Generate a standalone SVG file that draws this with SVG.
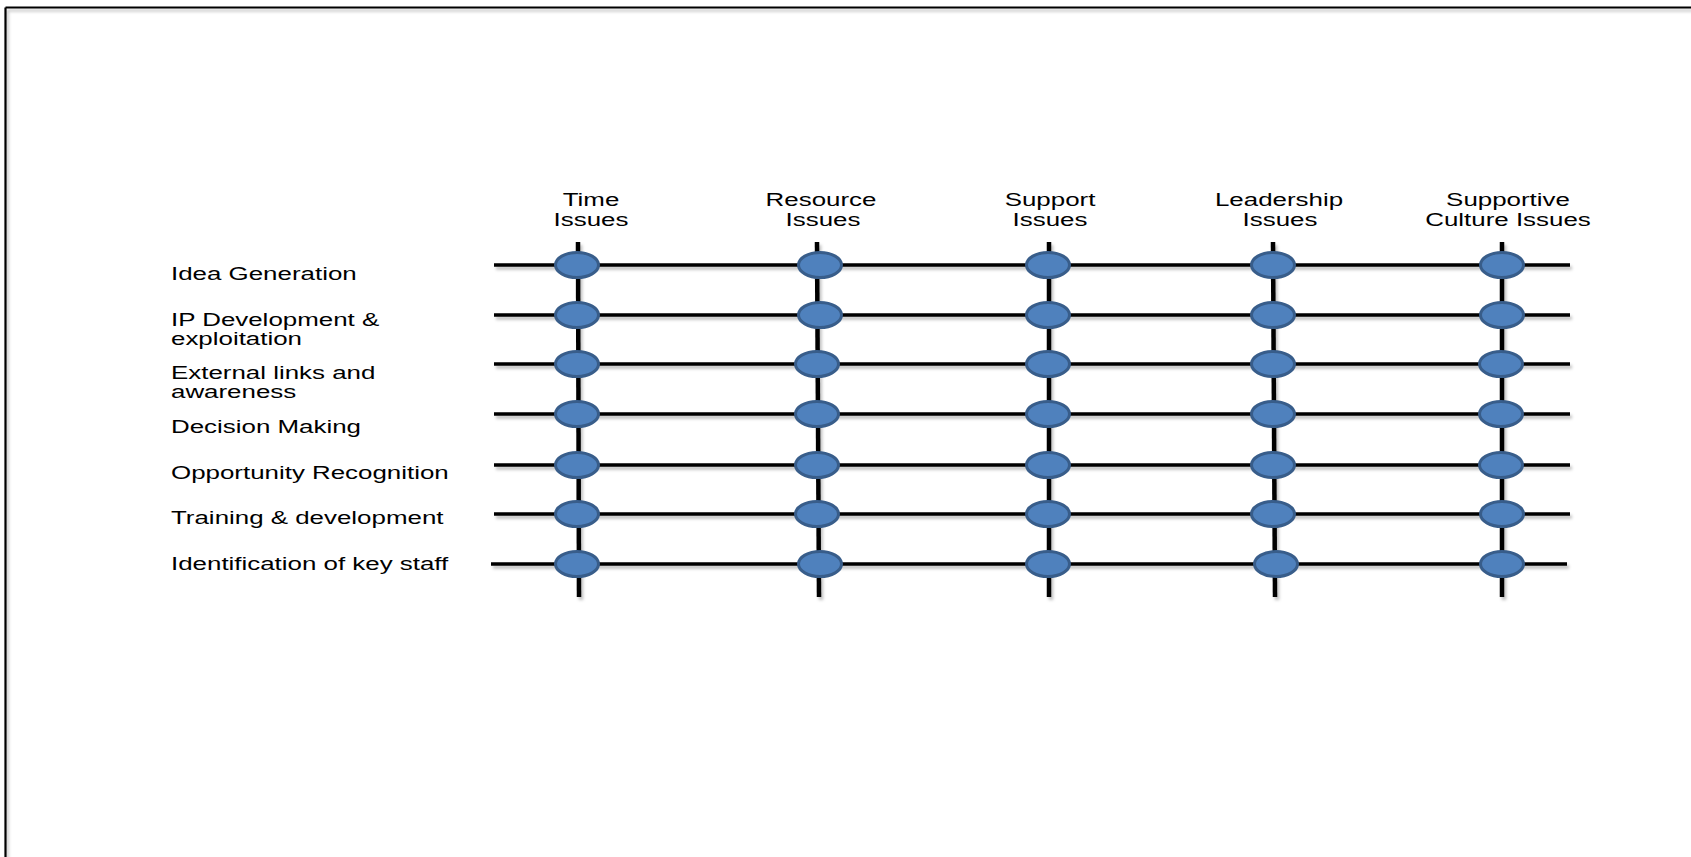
<svg xmlns="http://www.w3.org/2000/svg" width="1691" height="857" viewBox="0 0 1691 857">
  <defs>
    <filter id="soft" x="-5%" y="-50%" width="110%" height="200%">
      <feDropShadow dx="2" dy="3" stdDeviation="1.5" flood-color="#000" flood-opacity="0.25"/>
    </filter>
    <style>
      .frame { stroke: #000; stroke-width: 2.2; fill: none; }
      .row { stroke: #000; stroke-width: 3.5; fill: none; }
      .col { stroke: #000; stroke-width: 4.5; fill: none; }
      .dot { fill: #4f81bd; stroke: #385d8a; stroke-width: 3; }
      text { font-family: "Liberation Sans", Arial, sans-serif; font-size: 17.5px; fill: #000; }
      .hdr { text-anchor: middle; }
    </style>
  </defs>

  <rect width="1691" height="857" fill="#fff"/>

  <!-- outer frame: top and left edges -->
  <g id="frame" filter="url(#soft)">
    <line class="frame" x1="5.5" y1="7.5" x2="1691" y2="7.5"/>
    <line class="frame" x1="5.5" y1="7.5" x2="5.5" y2="857"/>
  </g>

  <!-- grid lines -->
  <g id="connectors" filter="url(#soft)">
    <line class="row" x1="494" y1="265" x2="1570" y2="265"/>
    <line class="row" x1="494" y1="315" x2="1570" y2="315"/>
    <line class="row" x1="494" y1="364" x2="1570" y2="364"/>
    <line class="row" x1="494" y1="414" x2="1570" y2="414"/>
    <line class="row" x1="494" y1="465" x2="1570" y2="465"/>
    <line class="row" x1="494" y1="514" x2="1570" y2="514"/>
    <line class="row" x1="491" y1="564" x2="1567" y2="564"/>
    <line class="col" x1="578" y1="242" x2="579" y2="597"/>
    <line class="col" x1="817" y1="242" x2="819" y2="597"/>
    <line class="col" x1="1049" y1="242" x2="1049" y2="597"/>
    <line class="col" x1="1273" y1="242" x2="1275" y2="597"/>
    <line class="col" x1="1502" y1="242" x2="1502" y2="597"/>
  </g>

  <!-- column headers -->
  <g id="hdr-time"><text class="hdr" transform="matrix(1.48 0 0 1 591 206)">Time</text><text class="hdr" transform="matrix(1.48 0 0 1 591 226)">Issues</text></g>
  <g id="hdr-resource"><text class="hdr" transform="matrix(1.48 0 0 1 821 206)">Resource</text><text class="hdr" transform="matrix(1.48 0 0 1 823 226)">Issues</text></g>
  <g id="hdr-support"><text class="hdr" transform="matrix(1.48 0 0 1 1050 206)">Support</text><text class="hdr" transform="matrix(1.48 0 0 1 1050 226)">Issues</text></g>
  <g id="hdr-leadership"><text class="hdr" transform="matrix(1.48 0 0 1 1279 206)">Leadership</text><text class="hdr" transform="matrix(1.48 0 0 1 1280 226)">Issues</text></g>
  <g id="hdr-culture"><text class="hdr" transform="matrix(1.48 0 0 1 1508 206)">Supportive</text><text class="hdr" transform="matrix(1.48 0 0 1 1508 226)">Culture Issues</text></g>

  <!-- row labels -->
  <g id="lbl-idea"><text transform="matrix(1.48 0 0 1 171 280)">Idea Generation</text></g>
  <g id="lbl-ip"><text transform="matrix(1.48 0 0 1 171 326)">IP Development &amp;</text><text transform="matrix(1.48 0 0 1 171 345)">exploitation</text></g>
  <g id="lbl-external"><text transform="matrix(1.48 0 0 1 171 379)">External links and</text><text transform="matrix(1.48 0 0 1 171 398)">awareness</text></g>
  <g id="lbl-decision"><text transform="matrix(1.48 0 0 1 171 433)">Decision Making</text></g>
  <g id="lbl-opportunity"><text transform="matrix(1.48 0 0 1 171 479)">Opportunity Recognition</text></g>
  <g id="lbl-training"><text transform="matrix(1.48 0 0 1 171 524)">Training &amp; development</text></g>
  <g id="lbl-staff"><text transform="matrix(1.48 0 0 1 171 570)">Identification of key staff</text></g>

  <!-- intersection markers -->
  <g id="n-1-1"><ellipse class="dot" cx="577" cy="265" rx="21.5" ry="12.5"/></g>
  <g id="n-1-2"><ellipse class="dot" cx="820" cy="265" rx="21.5" ry="12.5"/></g>
  <g id="n-1-3"><ellipse class="dot" cx="1048" cy="265" rx="21.5" ry="12.5"/></g>
  <g id="n-1-4"><ellipse class="dot" cx="1273" cy="265" rx="21.5" ry="12.5"/></g>
  <g id="n-1-5"><ellipse class="dot" cx="1502" cy="265" rx="21.5" ry="12.5"/></g>

  <g id="n-2-1"><ellipse class="dot" cx="577" cy="315" rx="21.5" ry="12.5"/></g>
  <g id="n-2-2"><ellipse class="dot" cx="820" cy="315" rx="21.5" ry="12.5"/></g>
  <g id="n-2-3"><ellipse class="dot" cx="1048" cy="315" rx="21.5" ry="12.5"/></g>
  <g id="n-2-4"><ellipse class="dot" cx="1273" cy="315" rx="21.5" ry="12.5"/></g>
  <g id="n-2-5"><ellipse class="dot" cx="1502" cy="315" rx="21.5" ry="12.5"/></g>

  <g id="n-3-1"><ellipse class="dot" cx="577" cy="364" rx="21.5" ry="12.5"/></g>
  <g id="n-3-2"><ellipse class="dot" cx="817" cy="364" rx="21.5" ry="12.5"/></g>
  <g id="n-3-3"><ellipse class="dot" cx="1048" cy="364" rx="21.5" ry="12.5"/></g>
  <g id="n-3-4"><ellipse class="dot" cx="1273" cy="364" rx="21.5" ry="12.5"/></g>
  <g id="n-3-5"><ellipse class="dot" cx="1501" cy="364" rx="21.5" ry="12.5"/></g>

  <g id="n-4-1"><ellipse class="dot" cx="577" cy="414" rx="21.5" ry="12.5"/></g>
  <g id="n-4-2"><ellipse class="dot" cx="817" cy="414" rx="21.5" ry="12.5"/></g>
  <g id="n-4-3"><ellipse class="dot" cx="1048" cy="414" rx="21.5" ry="12.5"/></g>
  <g id="n-4-4"><ellipse class="dot" cx="1273" cy="414" rx="21.5" ry="12.5"/></g>
  <g id="n-4-5"><ellipse class="dot" cx="1501" cy="414" rx="21.5" ry="12.5"/></g>

  <g id="n-5-1"><ellipse class="dot" cx="577" cy="465" rx="21.5" ry="12.5"/></g>
  <g id="n-5-2"><ellipse class="dot" cx="817" cy="465" rx="21.5" ry="12.5"/></g>
  <g id="n-5-3"><ellipse class="dot" cx="1048" cy="465" rx="21.5" ry="12.5"/></g>
  <g id="n-5-4"><ellipse class="dot" cx="1273" cy="465" rx="21.5" ry="12.5"/></g>
  <g id="n-5-5"><ellipse class="dot" cx="1501" cy="465" rx="21.5" ry="12.5"/></g>

  <g id="n-6-1"><ellipse class="dot" cx="577" cy="514" rx="21.5" ry="12.5"/></g>
  <g id="n-6-2"><ellipse class="dot" cx="817" cy="514" rx="21.5" ry="12.5"/></g>
  <g id="n-6-3"><ellipse class="dot" cx="1048" cy="514" rx="21.5" ry="12.5"/></g>
  <g id="n-6-4"><ellipse class="dot" cx="1273" cy="514" rx="21.5" ry="12.5"/></g>
  <g id="n-6-5"><ellipse class="dot" cx="1502" cy="514" rx="21.5" ry="12.5"/></g>

  <g id="n-7-1"><ellipse class="dot" cx="577" cy="564" rx="21.5" ry="12.5"/></g>
  <g id="n-7-2"><ellipse class="dot" cx="820" cy="564" rx="21.5" ry="12.5"/></g>
  <g id="n-7-3"><ellipse class="dot" cx="1048" cy="564" rx="21.5" ry="12.5"/></g>
  <g id="n-7-4"><ellipse class="dot" cx="1276" cy="564" rx="21.5" ry="12.5"/></g>
  <g id="n-7-5"><ellipse class="dot" cx="1502" cy="564" rx="21.5" ry="12.5"/></g>
</svg>
